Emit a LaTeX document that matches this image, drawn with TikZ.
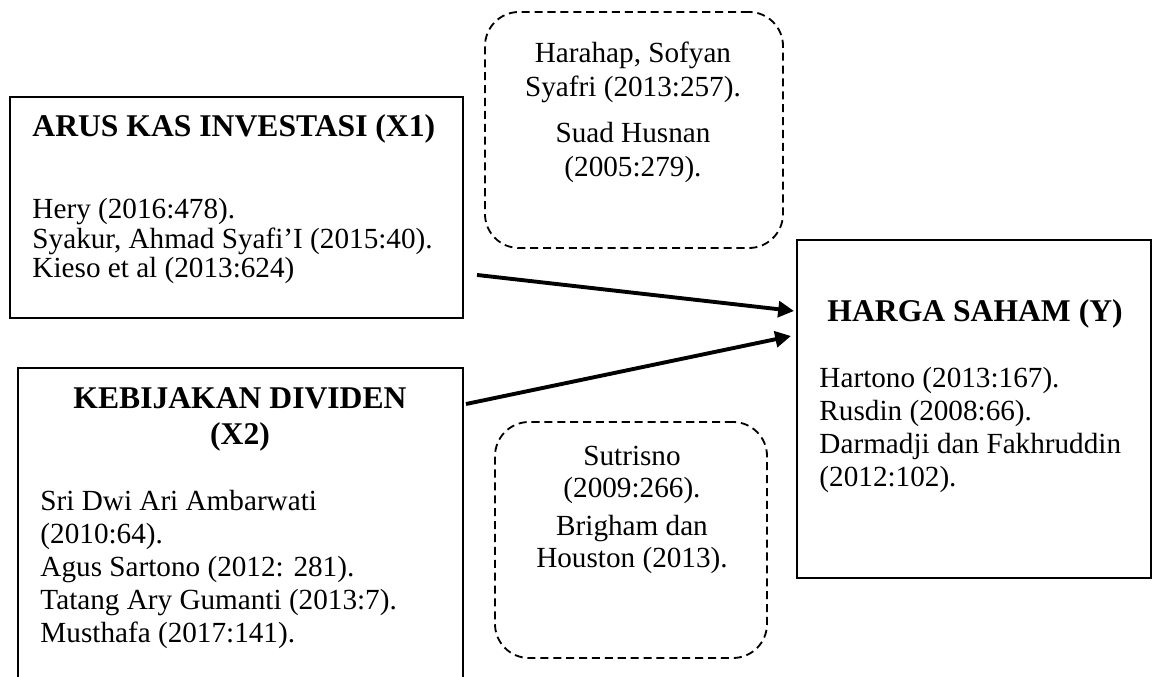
\documentclass[tikz,border=0pt]{standalone}
\usepackage{fontspec}
\setmainfont{Liberation Serif}
\usepackage{tikz}
\usetikzlibrary{positioning,arrows.meta}

\newcommand{\pxu}{0.411pt}

\begin{document}
\begin{tikzpicture}[
    x=0.411pt, y=-0.411pt,
    varbox/.style={draw, line width=0.8pt, inner sep=0pt},
    refbox/.style={draw, dash pattern=on 3.3pt off 2pt, line width=0.75pt, rounded corners=14pt, inner sep=0pt},
    title/.style={font=\fontsize{13}{15.2}\selectfont\bfseries, inner sep=0pt, align=center},
    body/.style={font=\fontsize{12}{13.6}\selectfont, inner sep=0pt, align=left},
    arrow/.style={-{Triangle[length=6.5pt,width=6.5pt]}, line width=1.6pt}
]
\useasboundingbox (0,0) rectangle (1152,677);

% Variables
\node[varbox, minimum width=453*\pxu, minimum height=221*\pxu] (x1) at (236.5,207.5) {};
\node[varbox, minimum width=445*\pxu, minimum height=330*\pxu] (x2) at (240.5,533) {};
\node[varbox, minimum width=354*\pxu, minimum height=338*\pxu] (y) at (974,409) {};

% (base anchor = last line)
\node[title, anchor=base west] (x1title) at (32,137) {ARUS KAS INVESTASI (X1)};
\node[body, anchor=base west, font=\fontsize{12}{12.3}\selectfont] (x1text) at (32,278)
  {Hery (2016:478).\\Syakur, Ahmad Syafi’I (2015:40).\\Kieso et al (2013:624)};

\node[title, anchor=base] (x2title) at (240,445) {KEBIJAKAN DIVIDEN\\(X2)};
\node[body, anchor=base west] (x2text) at (40,643)
  {Sri Dwi Ari Ambarwati\\(2010:64).\\Agus Sartono (2012: 281).\\Tatang Ary Gumanti (2013:7).\\Musthafa (2017:141).};

\node[title, anchor=base west] (ytitle) at (827,322) {HARGA SAHAM (Y)};
\node[body, anchor=base west] (ytext) at (819,487)
  {Hartono (2013:167).\\Rusdin (2008:66).\\Darmadji dan Fakhruddin\\(2012:102).};

% Theories
\node[refbox, minimum width=298*\pxu, minimum height=236*\pxu] (ref1) at (634,130) {};
\node[refbox, minimum width=272*\pxu, minimum height=236*\pxu] (ref2) at (631,540) {};

\node[body, align=center, anchor=base, font=\fontsize{12}{14}\selectfont] (ref1text) at (633,177)
  {Harahap, Sofyan\\Syafri (2013:257).\\[4.9pt]Suad Husnan\\(2005:279).};
\node[body, align=center, anchor=base, font=\fontsize{12}{13.2}\selectfont] (ref2text) at (632,568)
  {Sutrisno\\(2009:266).\\[2.5pt]Brigham dan\\Houston (2013).};

% Arrows
\draw[arrow] ([shift={(13,-44)}]x1.south east) -- ([shift={(-2,-98)}]y.west);
\draw[arrow] ([shift={(2,37)}]x2.north east) -- ([shift={(-5,-73)}]y.west);

\end{tikzpicture}
\end{document}
